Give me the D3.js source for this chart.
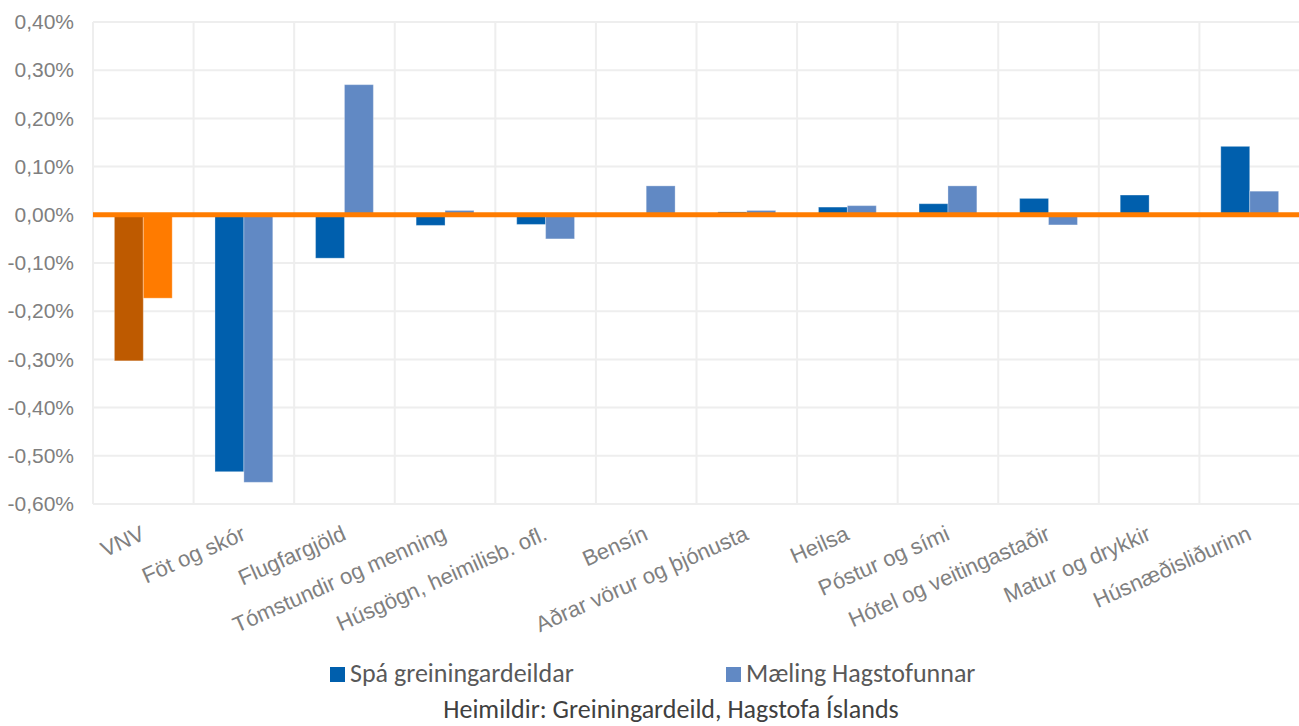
<!DOCTYPE html>
<html>
<head>
<meta charset="utf-8">
<script src="https://cdn.jsdelivr.net/npm/d3@7"></script>
<style>
    body { margin: 0; background: #fff; }
    #chart { width: 1299px; height: 726px; }
</style>
</head>
<body>
<div id="chart"></div>
<script>
// flokkar (vísitöluliðir)
const categories = [
    'VNV', 'Föt og skór', 'Flugfargjöld', 'Tómstundir og menning',
    'Húsgögn, heimilisb. ofl.', 'Bensín', 'Aðrar vörur og þjónusta', 'Heilsa',
    'Póstur og sími', 'Hótel og veitingastaðir', 'Matur og drykkir', 'Húsnæðisliðurinn'
];
// áhrif á VNV í %
const spaValues = [-0.303, -0.533, -0.09, -0.022, -0.02, 0, 0.006, 0.016, 0.023, 0.034, 0.041, 0.142];
const maelingValues = [-0.173, -0.555, 0.27, 0.009, -0.05, 0.06, 0.009, 0.019, 0.06, -0.021, 0, 0.049];
const seriesNames = ['Spá greiningardeildar', 'Mæling Hagstofunnar'];
const yTicks = [0.4, 0.3, 0.2, 0.1, 0, -0.1, -0.2, -0.3, -0.4, -0.5, -0.6];
const sourceText = 'Heimildir: Greiningardeild, Hagstofa Íslands';

const colors = ['#005fad', '#6189c4'];
const vnvColors = ['#be5a00', '#ff7b00'];

const width = 1299, height = 726;
const plot = {left: 93, right: 1300, top: 22, bottom: 504};
const axisFont = '"Liberation Sans", Arial, sans-serif';
const legendFont = 'Carlito, Lato, sans-serif';

const isl = d3.formatLocale({decimal: ',', thousands: '.', grouping: [3], currency: ['', ''], minus: '-'});
const pct = d => isl.format('.2f')(d) + '%';

const rows = categories.map((c, i) => ({cat: c, values: [spaValues[i], maelingValues[i]]}));

const svg = d3.select('#chart')
    .append('svg')
    .attr('width', width)
    .attr('height', height);

const x0 = d3.scaleBand()
    .domain(categories)
    .range([plot.left, plot.right])
    .padding(0);
const x1 = d3.scaleBand()
    .domain([0, 1])
    .range([0, x0.bandwidth()])
    .paddingInner(0)
    .paddingOuter(0.74);
const y = d3.scaleLinear()
    .domain([-0.6, 0.4])
    .range([plot.bottom, plot.top]);

// grid
const grid = svg.append('g').attr('class', 'grid');
grid.selectAll('line.h')
    .data(yTicks)
    .join('line')
    .attr('class', 'h')
    .attr('x1', plot.left)
    .attr('x2', plot.right)
    .attr('y1', d => y(d))
    .attr('y2', d => y(d))
    .attr('stroke', '#eeeeee')
    .attr('stroke-width', 2);
grid.selectAll('line.v')
    .data(categories.map(c => x0(c)).concat([plot.right]))
    .join('line')
    .attr('class', 'v')
    .attr('x1', d => d)
    .attr('x2', d => d)
    .attr('y1', plot.top)
    .attr('y2', plot.bottom)
    .attr('stroke', '#eeeeee')
    .attr('stroke-width', 2);

// bars
const groups = svg.append('g')
    .selectAll('g')
    .data(rows)
    .join('g')
    .attr('transform', d => `translate(${x0(d.cat)},0)`);
groups.selectAll('rect')
    .data((d, i) => d.values.map((v, k) => ({v, k, vnv: i === 0})))
    .join('rect')
    .attr('x', d => x1(d.k))
    .attr('width', x1.bandwidth())
    .attr('y', d => y(Math.max(0, d.v)))
    .attr('height', d => Math.abs(y(d.v) - y(0)))
    .attr('fill', d => d.vnv ? vnvColors[d.k] : colors[d.k])
    .attr('stroke', d => d.v === 0 ? 'none' : '#ffffff')
    .attr('stroke-opacity', 0.3)
    .attr('stroke-width', 1);

// orange zero line
svg.append('line')
    .attr('x1', plot.left)
    .attr('x2', plot.right)
    .attr('y1', y(0))
    .attr('y2', y(0))
    .attr('stroke', '#ff7c00')
    .attr('stroke-width', 5);

// y axis
const yAxis = d3.axisLeft(y)
    .tickValues(yTicks)
    .tickSize(0)
    .tickPadding(19)
    .tickFormat(pct);
svg.append('g')
    .attr('transform', `translate(${plot.left},0)`)
    .call(yAxis)
    .attr('font-family', axisFont)
    .attr('font-size', 21)
    .call(g => g.select('.domain').remove())
    .call(g => g.selectAll('text').attr('fill', '#7f7f7f'));

// x axis, rotated labels ending at the band centre
const xAxis = d3.axisBottom(x0).tickSize(0);
svg.append('g')
    .attr('transform', `translate(0,${plot.bottom})`)
    .call(xAxis)
    .attr('font-family', axisFont)
    .attr('font-size', 22)
    .call(g => g.select('.domain').remove())
    .selectAll('text')
    .attr('fill', '#808080')
    .attr('x', 0)
    .attr('y', 0)
    .attr('dy', 0)
    .attr('text-anchor', 'end')
    .attr('transform', 'translate(3,35) rotate(-24)');

// legend
const legend = svg.append('g')
    .attr('transform', 'translate(330,667)')
    .attr('font-family', legendFont)
    .attr('font-size', 26);
const items = legend.selectAll('g')
    .data(seriesNames)
    .join('g')
    .attr('transform', (d, i) => `translate(${i * 396},0)`);
items.append('rect')
    .attr('width', 15)
    .attr('height', 15)
    .attr('fill', (d, i) => colors[i]);
items.append('text')
    .attr('x', 20)
    .attr('y', 15)
    .attr('fill', '#595959')
    .text(d => d);

svg.append('text')
    .attr('x', 671)
    .attr('y', 718)
    .attr('text-anchor', 'middle')
    .attr('font-family', legendFont)
    .attr('font-size', 26)
    .attr('fill', '#404040')
    .text(sourceText);
</script>
</body>
</html>
